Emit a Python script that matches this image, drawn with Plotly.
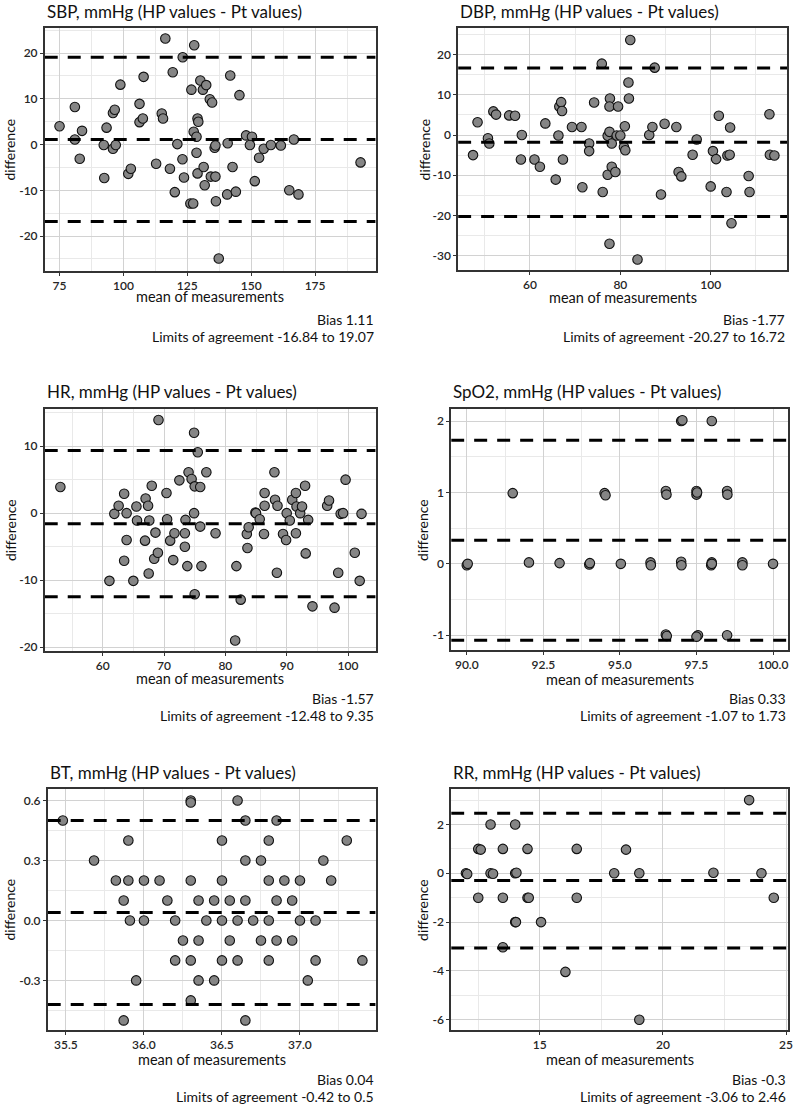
import plotly.graph_objects as go

W, H = 800, 1111

# ---------------- data ----------------
sbp_mean = [75.0, 81.0, 81.0, 82.9, 83.8, 92.3, 92.5, 93.4, 95.9, 96.6, 95.9, 97.0, 98.8, 101.9, 102.9,
            106.3, 106.3, 107.6, 107.9, 112.8, 115.0, 115.5, 116.4, 118.2, 119.3, 120.1, 121.1, 123.2,
            123.1, 123.7, 126.6, 126.2, 127.3, 127.7, 127.5, 128.6, 128.6, 129.0, 129.3, 129.0, 130.1,
            131.1, 132.4, 131.4, 131.8, 133.8, 134.7, 134.2, 136.0, 135.7, 136.0, 136.2, 137.3, 140.6,
            140.8, 141.8, 142.7, 144.0, 145.4, 148.0, 150.3, 149.5, 151.4, 153.1, 154.9, 157.7, 161.6,
            164.9, 166.7, 168.5, 192.8]
sbp_diff = [4.0, 8.2, 1.1, -3.1, 3.0, -0.1, -7.3, 3.7, 6.9, 7.6, -0.9, -0.1, 13.1, -6.4, -5.3,
            8.9, 4.9, 5.7, 14.8, -4.2, 6.8, 5.7, 23.2, -5.3, 15.8, -10.4, 0.1, 19.1,
            -3.2, -7.2, 12.0, -12.9, -12.9, 21.7, 2.8, 1.7, -1.8, 5.7, 5.0, -6.3, 14.0,
            12.0, 13.0, -4.9, -8.9, 9.9, 9.2, -7.0, -7.0, -0.7, -0.2, -12.4, -24.9, -10.9,
            0.3, 15.1, -4.9, -10.3, 10.8, 2.0, 1.7, -0.1, -8.0, -2.9, -0.9, -0.1, -0.2,
            -10.0, 1.1, -10.9, -3.9]

dbp_mean = [47.4, 48.4, 50.7, 51.0, 51.9, 52.5, 55.4, 56.7, 58.2, 58.0, 61.0, 62.2, 63.4, 65.7, 66.3,
            66.5, 66.9, 67.1, 67.3, 69.3, 71.4, 71.6, 73.1, 73.1, 74.2, 75.9, 76.1, 77.2, 77.2, 77.6,
            77.7, 77.6, 77.6, 78.1, 78.1, 78.9, 79.2, 79.5, 80.0, 80.8, 81.1, 81.0, 81.8, 81.9, 82.2,
            83.8, 86.4, 87.1, 87.6, 89.0, 89.8, 92.4, 92.9, 93.5, 96.0, 96.9, 100.0, 100.5, 101.2,
            101.8, 103.5, 103.7, 104.2, 104.3, 104.6, 108.4, 108.6, 113.0, 113.1, 114.1]
dbp_diff = [-5.0, 3.2, -0.8, -2.1, 5.9, 5.1, 4.9, 4.8, 0.0, -6.1, -6.1, -7.9, 2.9, -11.1, -0.1,
            7.1, 8.2, 6.0, -6.1, 2.0, 2.0, -13.0, -2.1, -4.0, 8.1, 17.8, -14.2, -9.9, -0.2, 0.8,
            9.1, 7.1, -27.1, -2.1, -7.9, -9.2, -0.1, 7.1, -0.1, -3.0, -3.8, 2.2, 13.1, 9.1, 23.7,
            -31.0, 0.0, 2.0, 16.8, -14.8, 2.8, 2.0, -9.2, -10.3, -4.9, -1.1, -12.8, -4.0, -6.0,
            4.8, -14.2, -5.1, -4.9, 1.9, -22.0, -10.2, -14.2, 5.2, -4.9, -5.1]

hr_mean = [53.1, 61.1, 61.9, 62.6, 63.5, 63.5, 63.9, 63.9, 65.0, 65.5, 65.6, 66.9, 67.0, 67.4, 67.6,
           67.5, 68.0, 68.6, 68.4, 69.0, 69.1, 70.4, 70.5, 71.0, 71.5, 71.7, 72.5, 73.4, 73.4, 73.5,
           73.8, 74.0, 74.5, 74.9, 74.9, 75.0, 75.0, 75.5, 75.9, 75.9, 76.1, 76.9, 78.4, 81.8, 81.6,
           82.5, 83.5, 83.6, 83.8, 84.9, 85.0, 85.6, 86.4, 86.4, 86.3, 88.0, 88.1, 88.5, 88.4, 89.4,
           90.0, 89.9, 90.5, 90.9, 91.5, 91.5, 91.6, 92.2, 92.5, 93.0, 93.1, 93.5, 94.2, 96.6, 96.9,
           97.8, 98.4, 98.8, 99.2, 99.6, 101.1, 101.9, 102.2]
hr_diff = [3.9, -10.1, -0.1, 1.1, 2.9, -7.1, 0.0, -4.0, -10.1, 1.0, -1.1, -4.1, 2.2, 1.1, -1.1,
           -9.0, 4.1, -2.9, -6.8, -5.9, 13.9, 3.0, -0.9, -4.1, -7.0, -3.0, 4.9, -3.0, -5.0, -1.0,
           -7.9, 6.1, 5.1, 12.0, 0.0, 4.0, -12.1, 9.1, 3.9, -2.0, -7.9, 6.1, -3.0, -7.9, -19.0,
           -12.9, -3.1, -5.2, -2.1, 0.1, 0.0, -0.9, 3.0, 1.1, -3.1, 6.1, 2.0, 1.1, -8.9, -3.1,
           0.0, -4.0, -1.1, 2.0, 3.0, -3.0, 1.0, 0.0, 1.0, 4.1, -6.0, -1.0, -13.9, 1.1, 1.9,
           -14.1, -8.9, -0.1, 0.0, 5.0, -5.9, -10.1, -0.1]

spo2_mean = [90.0, 90.03, 91.5, 92.03, 93.03, 94.0, 94.02, 94.5, 94.53, 95.03, 96.0, 96.01, 96.5, 96.52,
             96.5, 96.53, 97.0, 97.04, 97.0, 97.01, 97.5, 97.5, 97.52, 97.55, 97.5, 98.0, 98.0, 97.98,
             98.0, 98.5, 98.51, 98.5, 99.0, 99.0, 100.0]
spo2_diff = [-0.02, 0.0, 0.99, 0.02, 0.01, -0.01, 0.01, 0.99, 0.96, 0.0, 0.02, -0.02, 1.02, 0.97,
             -0.99, -1.01, 2.0, 2.01, 0.03, -0.02, 1.02, 0.97, 1.0, -1.0, -1.02, 2.0, 0.02, -0.02,
             0.0, 1.02, 0.97, -1.0, 0.02, -0.02, 0.0]

bt_mean = [35.48, 35.68, 35.82, 35.87, 35.87, 35.9, 35.9, 35.91, 35.95, 36.0, 36.0, 36.1, 36.15, 36.2,
           36.2, 36.25, 36.3, 36.3, 36.3, 36.3, 36.3, 36.35, 36.35, 36.35, 36.4, 36.45, 36.45, 36.5,
           36.5, 36.5, 36.5, 36.55, 36.55, 36.6, 36.6, 36.6, 36.65, 36.65, 36.65, 36.65, 36.7, 36.75,
           36.75, 36.8, 36.8, 36.8, 36.8, 36.85, 36.85, 36.85, 36.9, 36.95, 36.95, 37.0, 37.0, 37.05,
           37.1, 37.1, 37.15, 37.2, 37.3, 37.4]
bt_diff = [0.5, 0.3, 0.2, 0.1, -0.5, 0.4, 0.2, 0.0, -0.3, 0.2, 0.0, 0.2, 0.1, 0.0,
           -0.2, -0.1, 0.6, 0.59, 0.2, -0.2, -0.4, 0.1, -0.1, -0.3, 0.0, 0.1, -0.3, 0.4,
           0.2, 0.0, -0.2, 0.1, -0.1, 0.0, -0.2, 0.6, 0.5, -0.5, 0.3, 0.1, 0.0, -0.1,
           0.3, 0.4, 0.2, 0.0, -0.2, 0.5, 0.1, -0.1, 0.2, 0.1, -0.1, 0.2, 0.0, -0.3,
           0.0, -0.2, 0.3, 0.2, 0.4, -0.2]

rr_mean = [12.0, 12.05, 12.5, 12.6, 12.5, 13.0, 13.0, 13.1, 13.5, 13.5, 13.5, 14.0, 14.0, 14.05,
           14.0, 14.03, 14.5, 14.5, 14.55, 15.05, 16.04, 16.5, 16.5, 18.02, 18.5, 19.04, 19.04,
           22.05, 23.5, 24.0, 24.5]
rr_diff = [0.0, -0.03, 1.0, 0.97, -1.0, 2.0, 0.0, -0.02, 1.0, -1.0, -3.03, 2.0, 0.0, 0.02,
           -2.0, -2.0, 1.0, -1.0, -1.0, -2.0, -4.04, 1.0, -1.0, 0.0, 0.97, 0.0, -6.0,
           0.02, 3.0, 0.0, -1.0]

titles = ["SBP, mmHg (HP values - Pt values)", "DBP, mmHg (HP values - Pt values)",
          "HR, mmHg (HP values - Pt values)", "SpO2, mmHg (HP values - Pt values)",
          "BT, mmHg (HP values - Pt values)", "RR, mmHg (HP values - Pt values)"]
bias = [1.11, -1.77, -1.57, 0.33, 0.04, -0.3]
loa_low = [-16.84, -20.27, -12.48, -1.07, -0.42, -3.06]
loa_high = [19.07, 16.72, 9.35, 1.73, 0.5, 2.46]
bias_txt = ["1.11", "-1.77", "-1.57", "0.33", "0.04", "-0.3"]
low_txt = ["-16.84", "-20.27", "-12.48", "-1.07", "-0.42", "-3.06"]
high_txt = ["19.07", "16.72", "9.35", "1.73", "0.5", "2.46"]

xs = [sbp_mean, dbp_mean, hr_mean, spo2_mean, bt_mean, rr_mean]
ys = [sbp_diff, dbp_diff, hr_diff, spo2_diff, bt_diff, rr_diff]

x_ticks = [[75, 100, 125, 150, 175], [60, 80, 100], [60, 70, 80, 90, 100],
           [90, 92.5, 95, 97.5, 100], [35.5, 36.0, 36.5, 37.0], [15, 20, 25]]
x_ticktext = [["75", "100", "125", "150", "175"], ["60", "80", "100"], ["60", "70", "80", "90", "100"],
              ["90.0", "92.5", "95.0", "97.5", "100.0"], ["35.5", "36.0", "36.5", "37.0"], ["15", "20", "25"]]
y_ticks = [[-20, -10, 0, 10, 20], [-30, -20, -10, 0, 10, 20], [-20, -10, 0, 10],
           [-1, 0, 1, 2], [-0.3, 0.0, 0.3, 0.6], [-6, -4, -2, 0, 2]]
y_ticktext = [["-20", "-10", "0", "10", "20"], ["-30", "-20", "-10", "0", "10", "20"],
              ["-20", "-10", "0", "10"], ["-1", "0", "1", "2"], ["-0.3", "0.0", "0.3", "0.6"],
              ["-6", "-4", "-2", "0", "2"]]
x_minor = [[62.5, 87.5, 112.5, 137.5, 162.5, 187.5], [50, 70, 90, 110], [55, 65, 75, 85, 95],
           [91.25, 93.75, 96.25, 98.75], [35.75, 36.25, 36.75, 37.25], [12.5, 17.5, 22.5]]
y_minor = [[-25, -15, -5, 5, 15, 25], [-25, -15, -5, 5, 15, 25], [-15, -5, 5, 15],
           [-0.5, 0.5, 1.5], [-0.45, -0.15, 0.15, 0.45], [-5, -3, -1, 1, 3]]

x_ranges = [[69.2, 198.7], [44.1, 116.9], [50.55, 104.5], [89.49, 100.49], [35.383, 37.485], [11.4, 25.08]]
y_ranges = [[-27.7, 25.5], [-33.7, 26.7], [-20.6, 15.56], [-1.21, 2.17], [-0.549, 0.658], [-6.43, 3.46]]

# ---------------- layout geometry (screen pixels) ----------------
boxes = [(45, 378, 28, 272), (461, 792, 28, 271), (45, 378, 410, 653),
         (454, 793, 410, 652), (48, 378, 791, 1033), (454, 793, 791, 1033)]
title_y = [12, 12, 393, 393, 775, 775]
ylab_x = [10, 427, 10, 425, 10, 425]
xlab_y = [297, 298, 680, 681, 1062, 1062]
bias_y = [320, 320, 700, 700, 1082, 1082]


def fx(p):
    return p / W


def fy(p):
    return 1 - p / H


FONT = "Lato"
fig = go.Figure()
annotations = []
layout = dict(width=W, height=H, margin=dict(l=0, r=0, t=0, b=0), autosize=False,
              paper_bgcolor="white", plot_bgcolor="white", showlegend=False,
              font=dict(family=FONT, color="#111"))

for i in range(6):
    n = "" if i == 0 else str(i + 1)
    l, r, t, b = boxes[i]
    axis_common = dict(showgrid=True, gridcolor="#d2d2d2", gridwidth=1, zeroline=False,
                       showline=True, mirror=True, linecolor="#333", linewidth=1.5,
                       ticks="outside", ticklen=3, tickcolor="#333", tickwidth=1,
                       tickfont=dict(size=12, color="#262626", family=FONT, weight=600))
    layout["xaxis" + n] = dict(domain=[fx(l), fx(r)], range=x_ranges[i], anchor="y" + n,
                               tickvals=x_ticks[i], ticktext=x_ticktext[i],
                               minor=dict(tickvals=x_minor[i], showgrid=True, gridcolor="#e9e9e9",
                                          gridwidth=0.7), **axis_common)
    layout["yaxis" + n] = dict(domain=[fy(b), fy(t)], range=y_ranges[i], anchor="x" + n,
                               tickvals=y_ticks[i], ticktext=y_ticktext[i],
                               minor=dict(tickvals=y_minor[i], showgrid=True, gridcolor="#e9e9e9",
                                          gridwidth=0.7), **axis_common)

    fig.add_trace(go.Scatter(x=xs[i], y=ys[i], mode="markers", xaxis="x" + n, yaxis="y" + n,
                             marker=dict(size=9.5, color="#858585", line=dict(color="#111", width=1.1))))

    for val in (loa_high[i], bias[i], loa_low[i]):
        fig.add_trace(go.Scatter(x=x_ranges[i], y=[val, val], mode="lines", xaxis="x" + n,
                                 yaxis="y" + n, hoverinfo="skip",
                                 line=dict(color="black", width=3, dash="13px,10px")))

    annotations.append(dict(text=titles[i], x=fx(l), y=fy(title_y[i]), xref="paper", yref="paper",
                            xanchor="left", yanchor="middle", showarrow=False,
                            font=dict(size=17, color="#111", family=FONT)))
    annotations.append(dict(text="difference", x=fx(ylab_x[i]), y=fy((t + b) / 2),
                            xref="paper", yref="paper", textangle=-90, xanchor="center",
                            yanchor="middle", showarrow=False, font=dict(size=14, color="#111", family=FONT)))
    annotations.append(dict(text="mean of measurements", x=fx((l + r) / 2), y=fy(xlab_y[i]),
                            xref="paper", yref="paper", xanchor="center", yanchor="middle",
                            showarrow=False, font=dict(size=14.5, color="#111", family=FONT)))
    annotations.append(dict(text="Bias " + bias_txt[i], x=fx(r), y=fy(bias_y[i]),
                            xref="paper", yref="paper", xanchor="right", yanchor="middle",
                            showarrow=False, font=dict(size=14, color="#111", family=FONT)))
    annotations.append(dict(text="Limits of agreement " + low_txt[i] + " to " + high_txt[i],
                            x=fx(r), y=fy(bias_y[i] + 17),
                            xref="paper", yref="paper", xanchor="right", yanchor="middle",
                            showarrow=False, font=dict(size=14, color="#111", family=FONT)))

layout["annotations"] = annotations
fig.update_layout(**layout)
fig.write_html("out.html", config={"displayModeBar": False},
               post_script="document.body.style.margin='0px';document.body.style.padding='0px';"
                           "document.documentElement.style.overflow='hidden';")
